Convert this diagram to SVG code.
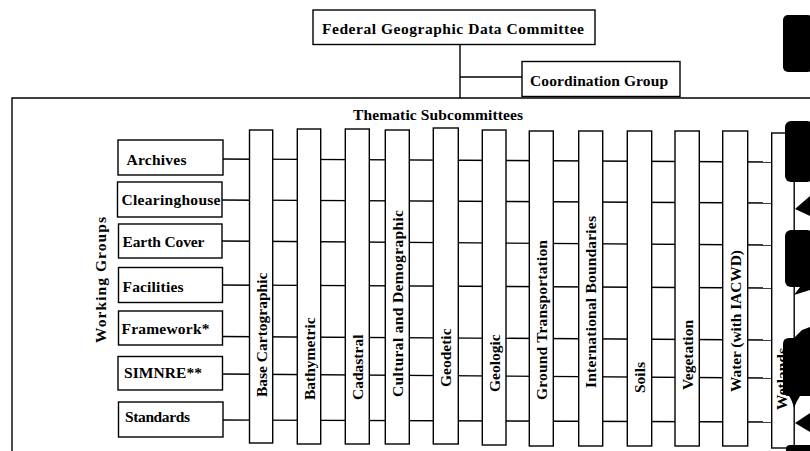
<svg xmlns="http://www.w3.org/2000/svg" width="810" height="451" viewBox="0 0 810 451">
<style>
.box{fill:#fff;stroke:#000;stroke-width:1.4}
.ln{stroke:#000;stroke-width:1.4;fill:none}
.t{font-family:"Liberation Serif","Times New Roman",serif;font-weight:bold;font-size:15.5px;fill:#000}
.blob{fill:#000}
</style>
<rect width="810" height="451" fill="#fff"/>

<g id="connectors">
  <line class="ln" x1="460" y1="44" x2="460" y2="98"/>
  <line class="ln" x1="460" y1="77" x2="522" y2="77"/>
  <line class="ln" x1="223" y1="159" x2="772" y2="162"/>
  <line class="ln" x1="222" y1="200" x2="772" y2="203"/>
  <line class="ln" x1="222" y1="241" x2="772" y2="245"/>
  <line class="ln" x1="222" y1="285" x2="772" y2="288"/>
  <line class="ln" x1="222" y1="336.5" x2="772" y2="340"/>
  <line class="ln" x1="222" y1="374" x2="772" y2="378"/>
  <line class="ln" x1="223" y1="420" x2="772" y2="422"/>
</g>

<g id="frame">
  <polyline class="ln" points="12,451 12,98 810,98"/>
</g>

<g id="fgdc">
  <rect class="box" x="313" y="10" width="282" height="34.5"/>
  <text class="t" x="322" y="33.5" textLength="262" lengthAdjust="spacing">Federal Geographic Data Committee</text>
</g>
<g id="coordination">
  <rect class="box" x="522" y="61.5" width="158" height="35"/>
  <text class="t" x="530" y="86" textLength="138" lengthAdjust="spacing">Coordination Group</text>
</g>
<g id="thematic-title">
  <text class="t" x="353" y="120" textLength="170" lengthAdjust="spacing">Thematic Subcommittees</text>
</g>
<g id="working-title">
  <text class="t" transform="translate(106,343) rotate(-90)" textLength="126" lengthAdjust="spacing">Working Groups</text>
</g>

<g id="wg-archives">
  <rect class="box" x="118" y="140" width="105" height="35"/>
  <text class="t" x="126.5" y="165" textLength="60" lengthAdjust="spacing">Archives</text>
</g>
<g id="wg-clearinghouse">
  <rect class="box" x="117.5" y="182" width="104.5" height="35"/>
  <text class="t" x="121.5" y="204.5" textLength="99" lengthAdjust="spacing">Clearinghouse</text>
</g>
<g id="wg-earth-cover">
  <rect class="box" x="118.5" y="224" width="103.5" height="34"/>
  <text class="t" x="122.5" y="246.5" textLength="82" lengthAdjust="spacing">Earth Cover</text>
</g>
<g id="wg-facilities">
  <rect class="box" x="118.5" y="267.5" width="104" height="35"/>
  <text class="t" x="122.5" y="291.5" textLength="61" lengthAdjust="spacing">Facilities</text>
</g>
<g id="wg-framework">
  <rect class="box" x="118.5" y="311" width="104" height="34"/>
  <text class="t" x="121.5" y="334" textLength="88" lengthAdjust="spacing">Framework*</text>
</g>
<g id="wg-simnre">
  <rect class="box" x="118" y="356.5" width="104.5" height="33.5"/>
  <text class="t" x="124" y="377.5" textLength="78" lengthAdjust="spacing">SIMNRE**</text>
</g>
<g id="wg-standards">
  <rect class="box" x="118.5" y="402" width="104.5" height="35"/>
  <text class="t" x="125" y="422" textLength="65" lengthAdjust="spacing">Standards</text>
</g>

<g id="ts-base-cartographic">
  <rect class="box" x="249.5" y="130" width="23.2" height="313"/>
  <text class="t" transform="translate(266.5,397) rotate(-90)">Base Cartographic</text>
</g>
<g id="ts-bathymetric">
  <rect class="box" x="297.3" y="129" width="23.4" height="315"/>
  <text class="t" transform="translate(314.5,400) rotate(-90)">Bathymetric</text>
</g>
<g id="ts-cadastral">
  <rect class="box" x="345.3" y="129" width="24" height="315"/>
  <text class="t" transform="translate(362.8,400) rotate(-90)">Cadastral</text>
</g>
<g id="ts-cultural">
  <rect class="box" x="385.3" y="130" width="24" height="314"/>
  <text class="t" transform="translate(402.8,397) rotate(-90)" textLength="187" lengthAdjust="spacing">Cultural and Demographic</text>
</g>
<g id="ts-geodetic">
  <rect class="box" x="433.3" y="128" width="25" height="316"/>
  <text class="t" transform="translate(451.3,387) rotate(-90)">Geodetic</text>
</g>
<g id="ts-geologic">
  <rect class="box" x="482.3" y="130" width="23.7" height="315"/>
  <text class="t" transform="translate(499.7,392) rotate(-90)">Geologic</text>
</g>
<g id="ts-ground-transportation">
  <rect class="box" x="529.3" y="131" width="24" height="315"/>
  <text class="t" transform="translate(546.8,400) rotate(-90)" textLength="160" lengthAdjust="spacing">Ground Transportation</text>
</g>
<g id="ts-international-boundaries">
  <rect class="box" x="578.7" y="131" width="24" height="315"/>
  <text class="t" transform="translate(596.2,388) rotate(-90)" textLength="172" lengthAdjust="spacing">International Boundaries</text>
</g>
<g id="ts-soils">
  <rect class="box" x="627.3" y="131" width="24.4" height="315"/>
  <text class="t" transform="translate(645,393) rotate(-90)">Soils</text>
</g>
<g id="ts-vegetation">
  <rect class="box" x="675" y="131" width="24.3" height="315"/>
  <text class="t" transform="translate(692.7,390) rotate(-90)">Vegetation</text>
</g>
<g id="ts-water">
  <rect class="box" x="722.7" y="131" width="25" height="315"/>
  <text class="t" transform="translate(740.7,392) rotate(-90)" textLength="142" lengthAdjust="spacing">Water (with IACWD)</text>
</g>
<g id="ts-wetlands">
  <rect class="box" x="771.7" y="133" width="22.5" height="315"/>
  <text class="t" transform="translate(787,410) rotate(-90)">Wetlands</text>
</g>

<g id="scan-marks">
  <rect class="blob" x="783" y="15" width="30" height="57" rx="5"/>
  <rect class="blob" x="785" y="121" width="28" height="61" rx="6"/>
  <path class="blob" d="M795,209 L810,196 L810,216 Z"/>
  <rect class="blob" x="785" y="230" width="28" height="57" rx="6"/>
  <path class="blob" d="M794,295 L800,287 L810,283 L810,290 Z"/>
  <path class="blob" d="M794,338 L802,330 L810,327 L810,338 Z"/>
  <path class="blob" d="M783,344 Q783,338 789,338 L810,338 L810,396 L800,396 Q796,402 794,408 Q792,400 789,396 Q783,396 783,390 Z"/>
  <path class="blob" d="M795,423 L810,413 L810,432 Z"/>
  <rect class="blob" x="786" y="445" width="27" height="10" rx="4"/>
</g>
</svg>
